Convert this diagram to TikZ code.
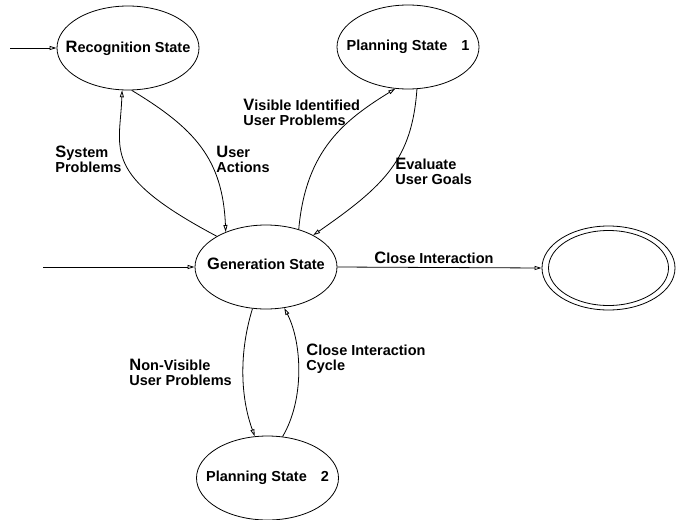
\documentclass[tikz,border=0pt]{standalone}
\usepackage{fontspec}
\setmainfont{Liberation Sans}
\usetikzlibrary{shapes.geometric,arrows.meta}
% slightly enlarged first letter of a label
\newcommand\initcap[1]{{\fontsize{16.5}{15}\selectfont #1}}
\begin{document}
\begin{tikzpicture}[x=1pt,y=-1pt, line width=0.8pt,
  state/.style={ellipse, draw, minimum width=142pt, minimum height=84pt, inner sep=0pt},
  txt/.style={font=\bfseries\fontsize{14.5}{15}\selectfont, inner sep=0pt},
  lbl/.style={txt, align=left, anchor=west},
  arr/.style={-{Triangle[open,length=7pt,width=4pt]}}]
\useasboundingbox (0,0) rectangle (676,519);

% states
\node[state] (rec) at (128,48) {};
\node[txt] (rect) at (rec) {\initcap{R}ecognition State};
\node[state] (pl1) at (408,47) {};
\node[txt] (pl1t) at (pl1) {Planning State\hspace{14pt}1};
\node[state] (gen) at (266,267) {};
\node[txt] (gent) at ([yshift=3pt]gen.center) {\initcap{G}eneration State};
\node[state] (pl2) at (267.5,478) {};
\node[txt] (pl2t) at (pl2) {Planning State\hspace{14pt}2};
\node[state, minimum width=133pt, minimum height=84pt] (fin) at (608.5,268) {};
\node[state, minimum width=120pt, minimum height=75pt] (finin) at (fin) {};

% entry arrows
\coordinate (s1) at (10,48);
\coordinate (s2) at (43,267);
\draw[arr] (s1) -- (rec.west);
\draw[arr] (s2) -- (gen.west);

% transitions
\draw[arr] (gen.east) -- (fin.west);
\draw[arr] (gen.148) .. controls +(-117,-62) and +(-2,60) .. (rec.262);
\draw[arr] (rec.275) .. controls +(63,38) and +(-3,-73) .. (gen.139);
\draw[arr] (gen.49) .. controls +(7,-80) and +(-50,31) .. (pl1.253);
\draw[arr] (pl1.282) .. controls +(-5,70) and +(72,-50) .. (gen.34);
\draw[arr] (gen.252) .. controls +(-13,42) and +(-15,-41) .. (pl2.107);
\draw[arr] (pl2.70) .. controls +(22,-37) and +(18,35) .. (gen.294);

% transition labels
\node[lbl] (l1) at (55,159) {\initcap{S}ystem\\Problems};
\node[lbl] (l2) at (216,159) {\initcap{U}ser\\Actions};
\node[lbl] (l3) at (243,112) {\initcap{V}isible Identified\\User Problems};
\node[lbl] (l4) at (395,171) {\initcap{E}valuate\\User Goals};
\node[lbl] (l5) at (374,258) {\initcap{C}lose Interaction};
\node[lbl] (l6) at (129,372) {\initcap{N}on-Visible\\User Problems};
\node[lbl] (l7) at (306,359) {\initcap{C}lose Interaction\\Cycle};
\end{tikzpicture}
\end{document}
